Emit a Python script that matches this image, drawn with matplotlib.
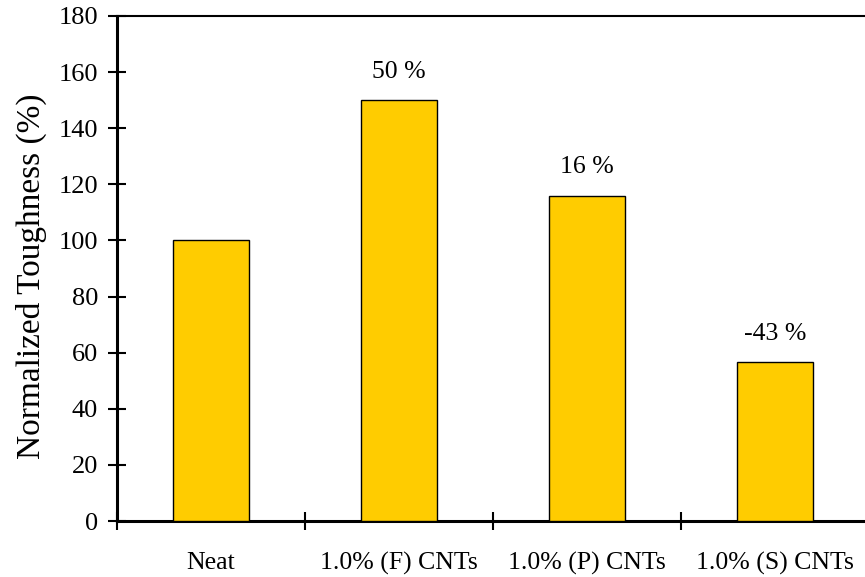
import matplotlib.pyplot as plt
import numpy as np

plt.rcParams["font.family"] = ["Liberation Serif", "DejaVu Serif"]

categories = ["Neat", "1.0% (F) CNTs", "1.0% (P) CNTs", "1.0% (S) CNTs"]
toughness = [100, 150, 116, 56.5]
change_labels = ["", "50 %", "16 %", "-43 %"]

fig = plt.figure(figsize=(8.65, 5.77), dpi=100)
ax = fig.add_axes([117 / 865, 1 - 521 / 577, 752 / 865, 505 / 577])

x = np.arange(len(categories)) + 0.5
ax.bar(x, toughness, width=0.4, color="#FFCC00", edgecolor="black", linewidth=1.0, zorder=3)

for xi, v, lab in zip(x, toughness, change_labels):
    if lab:
        ax.annotate(lab, (xi, v), xytext=(0, 20.5), textcoords="offset points",
                    ha="center", va="center", fontsize=18.5)

ax.set_xlim(0, len(categories))
ax.set_ylim(0, 180)
ax.set_yticks(np.arange(0, 181, 20))
ax.set_xticks(x)
ax.set_xticklabels(categories)
ax.set_xticks(np.arange(0, len(categories) + 1), minor=True)

ax.tick_params(axis="y", direction="inout", length=13, width=1.5, labelsize=19, pad=7)
ax.tick_params(axis="x", which="major", length=0, labelsize=18.5, pad=22)
ax.tick_params(axis="x", which="minor", direction="inout", length=13, width=1.5)

ax.set_ylabel("Normalized Toughness (%)", fontsize=24)
ax.yaxis.set_label_coords(-0.093, 0.484)

ax.spines["right"].set_visible(False)
ax.spines["top"].set_linewidth(1.5)
ax.spines["left"].set_linewidth(2.2)
ax.spines["bottom"].set_linewidth(2.2)

fig.savefig("out.png", dpi=100)
